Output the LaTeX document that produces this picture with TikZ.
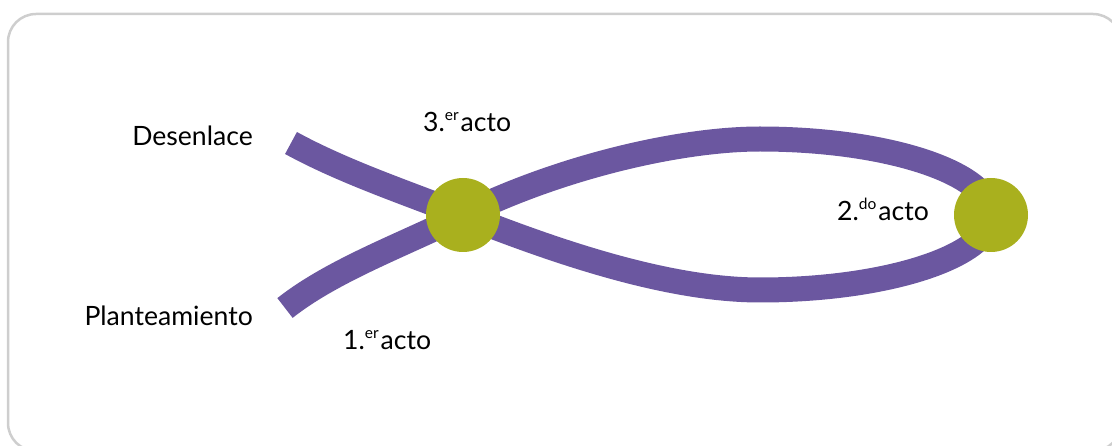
\documentclass[tikz,border=0pt]{standalone}
\usepackage{fontspec}
\setmainfont{Lato}
\definecolor{purp}{RGB}{107,87,160}
\definecolor{olivedot}{RGB}{169,176,30}
\definecolor{framegray}{RGB}{206,206,206}
\pgfdeclarelayer{bg}
\pgfsetlayers{bg,main}
\newcommand\supx[1]{\raisebox{0.42em}{\fontsize{15.5}{15.5}\selectfont #1}}
\begin{document}
\begin{tikzpicture}[x=1pt,y=-1pt,
 lbl/.style={font=\fontsize{26.6}{30}\selectfont, inner sep=0pt},
 dot/.style={circle, fill=olivedot, minimum size=74pt, inner sep=0pt},
 band/.style={draw=purp, line width=25pt, line cap=butt, line join=round}]
\useasboundingbox (0,0) rectangle (1112,446);
\begin{scope}
\clip (0,0) rectangle (1112,446);
\draw[framegray, line width=2.5pt, rounded corners=28pt] (8,14) rectangle (1121,451);
\end{scope}
\coordinate (pl) at (285,308);
\coordinate (de) at (291,143);
\coordinate (top) at (760,139);
\coordinate (bot) at (760,290);
\node[dot] (n1) at (463,215) {};
\node[dot] (n2) at (991,215) {};
\begin{pgfonlayer}{bg}
\draw[band] (pl) .. controls (333,270) and (405,244) .. (n1.center)
  .. controls (560,167) and (680,139) .. (top)
  .. controls (887,139) and (991,173) .. (n2.center)
  .. controls (991,256) and (887,290) .. (bot)
  .. controls (660,290) and (540,245) .. (n1.center)
  .. controls (407,193) and (344,172) .. (de);
\end{pgfonlayer}
\node[lbl, anchor=base east] (t1) at (253,146) {Desenlace};
\node[lbl, anchor=base east] (t2) at (253,326) {Planteamiento};
\node[lbl, anchor=base west] (t3) at (423,132) {3.\supx{er}\hspace{2pt}acto};
\node[lbl, anchor=base west] (t4) at (343,350) {1.\supx{er}\hspace{2pt}acto};
\node[lbl, anchor=base west] (t5) at (837,221) {2.\supx{do}\hspace{2pt}acto};
\end{tikzpicture}
\end{document}
